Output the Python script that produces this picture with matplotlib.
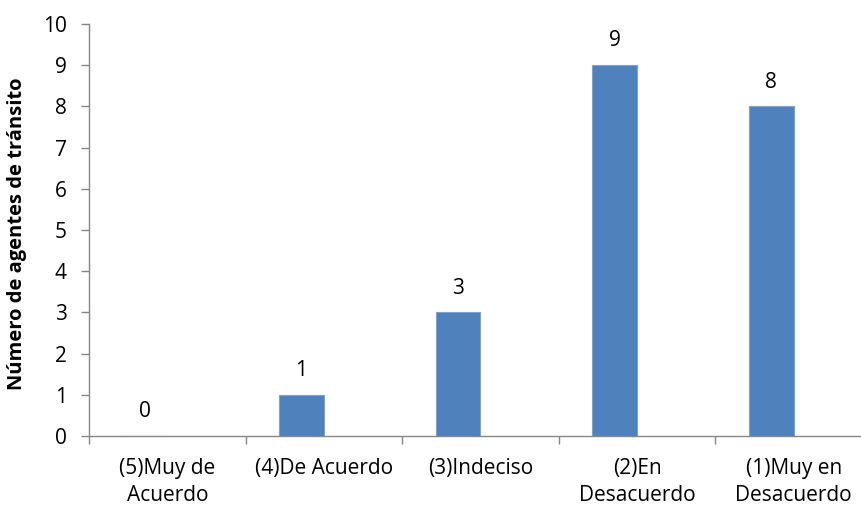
import matplotlib.pyplot as plt
import numpy as np

plt.rcParams['font.family'] = ['Open Sans', 'DejaVu Sans']

# datos
categorias = ['(5)Muy de\nAcuerdo', '(4)De Acuerdo', '(3)Indeciso',
              '(2)En\nDesacuerdo', '(1)Muy en\nDesacuerdo']
valores = [0, 1, 3, 9, 8]
etiqueta_y = 'Número de agentes de tránsito'

color_barra = '#4F81BD'
color_eje = '#868686'

fig = plt.figure(figsize=(8.62, 5.08), dpi=100)
ax = fig.add_axes([89 / 862, 72 / 508, 783 / 862, 412 / 508])

x = np.arange(len(categorias))
ancho = 0.287
barras = ax.bar(x - ancho / 2, valores, width=ancho, color=color_barra,
                edgecolor='#7EA2CE', linewidth=0.8)

for xi, v in zip(x - ancho / 2, valores):
    ax.annotate(str(v), (xi, v), xytext=(0, 10), textcoords='offset points',
                ha='center', va='bottom', fontsize=15)

ax.set_xlim(-0.5, len(categorias) - 0.5)
ax.set_ylim(0, 10)
ax.set_yticks(range(0, 11))
ax.tick_params(axis='y', labelsize=15, length=6, width=1, color=color_eje, pad=10)

ax.set_xticks(x)
ax.set_xticklabels(categorias, fontsize=15, linespacing=1.35)
ax.tick_params(axis='x', which='major', length=0, pad=16)
ax.set_xticks(np.arange(-0.5, len(categorias) + 0.5, 1), minor=True)
ax.tick_params(axis='x', which='minor', length=6, width=1, color=color_eje)

for lado in ['top', 'right']:
    ax.spines[lado].set_visible(False)
for lado in ['left', 'bottom']:
    ax.spines[lado].set_color(color_eje)
    ax.spines[lado].set_linewidth(1)

ax.set_ylabel(etiqueta_y, fontsize=14.5, fontweight='bold')
ax.yaxis.set_label_coords(-62 / 783, 0.49)

fig.savefig('out.png', dpi=100)
